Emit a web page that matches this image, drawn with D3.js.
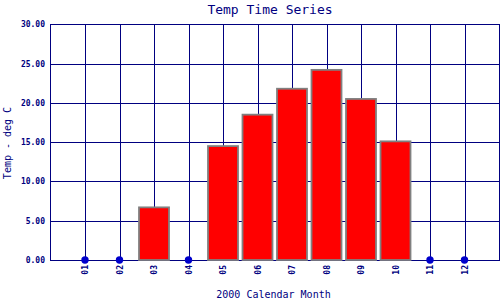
<!DOCTYPE html>
<html><head><meta charset="utf-8">
<script src="https://cdn.jsdelivr.net/npm/d3@7"></script>
<style>body{margin:0;background:#fff}svg{display:block}</style>
</head><body>
<script>
const months = ["01","02","03","04","05","06","07","08","09","10","11","12"];
const temps  = [0, 0, 6.7, 0, 14.5, 18.5, 21.8, 24.2, 20.5, 15.1, 0, 0];
const yTicks = [0, 5, 10, 15, 20, 25, 30];
const title = "Temp Time Series";
const xTitle = "2000 Calendar Month";
const yTitle = "Temp - deg C";

const W = 500, H = 300;
const navy = "#000080";
const font = "'DejaVu Sans Mono', 'Liberation Mono', monospace";
const svg = d3.select("body").append("svg").attr("width", W).attr("height", H);

const x = d3.scaleLinear().domain([0, 13]).range([50.5, 499]);
const y = d3.scaleLinear().domain([0, 30]).range([260, 24.3]);

// grid
const g = svg.append("g").attr("shape-rendering", "crispEdges").attr("stroke", navy).attr("stroke-width", 1.2);
g.selectAll("line.h").data(yTicks).join("line").attr("class","h")
  .attr("x1", 50).attr("x2", 499).attr("y1", d => Math.round(y(d))+0.5).attr("y2", d => Math.round(y(d))+0.5);
g.selectAll("line.v").data(months).join("line").attr("class","v")
  .attr("x1", (d,i) => Math.round(x(i+1))+0.5).attr("x2", (d,i) => Math.round(x(i+1))+0.5)
  .attr("y1", y(30)).attr("y2", y(0));
g.append("line").attr("x1", 50.5).attr("x2", 50.5).attr("y1", Math.round(y(30))).attr("y2", Math.round(y(0))+1);
g.append("line").attr("x1", 499.5).attr("x2", 499.5).attr("y1", Math.round(y(30))).attr("y2", Math.round(y(0))+1);

// bars
const bw = 30;
const data = months.map((m,i) => ({m, v: temps[i], i}));
svg.append("g").selectAll("rect").data(data.filter(d => d.v > 0)).join("rect")
  .attr("x", d => x(d.i+1) - bw/2).attr("width", bw)
  .attr("y", d => y(d.v)).attr("height", d => y(0) - y(d.v))
  .attr("fill", "#ff0000").attr("stroke", "#808080").attr("stroke-width", 1.8);

// zero dots
svg.append("g").selectAll("circle").data(data.filter(d => d.v === 0)).join("circle")
  .attr("cx", d => x(d.i+1)).attr("cy", y(0)).attr("r", 3.7).attr("fill", "#0000cc");

// y tick labels
svg.append("g").selectAll("text").data(yTicks).join("text")
  .attr("x", 45).attr("y", d => y(d) + 3)
  .attr("text-anchor", "end").attr("font-family", font).attr("font-size", 8).attr("font-weight", "bold")
  .attr("fill", navy).text(d => d.toFixed(2));

// x tick labels
svg.append("g").selectAll("text").data(months).join("text")
  .attr("transform", (d,i) => `translate(${x(i+1)+3},265) rotate(-90)`)
  .attr("text-anchor", "end").attr("font-family", font).attr("font-size", 8).attr("font-weight", "bold")
  .attr("fill", navy).text(d => d);

// titles
svg.append("text").attr("x", 270).attr("y", 13.5).attr("text-anchor", "middle")
  .attr("font-family", font).attr("font-size", 13).attr("fill", navy).text(title);
svg.append("text").attr("x", 273.5).attr("y", 297.5).attr("text-anchor", "middle")
  .attr("font-family", font).attr("font-size", 10).attr("fill", navy).text(xTitle);
svg.append("text").attr("transform", "translate(11,143) rotate(-90)").attr("text-anchor", "middle")
  .attr("font-family", font).attr("font-size", 10).attr("fill", navy).text(yTitle);
</script>
</body></html>
